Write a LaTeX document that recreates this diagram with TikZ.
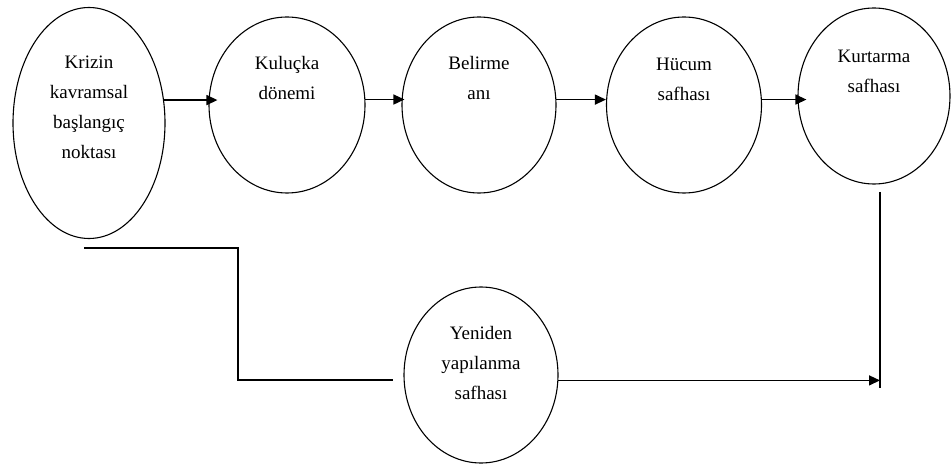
\documentclass[tikz,border=0pt]{standalone}
\usepackage{fontspec}
\setmainfont{Liberation Serif}
\usetikzlibrary{arrows.meta, shapes.geometric}

\begin{document}
\begin{tikzpicture}[x=1pt, y=-1pt,
    phase/.style={draw, ellipse, line width=1.1pt, inner sep=0pt},
    lbl/.style={align=center, font=\fontsize{19}{30}\selectfont},
    link/.style={line width=1.4pt},
    arr/.style={line width=1.4pt, -{Triangle[length=11pt, width=10pt]}}]
  \useasboundingbox (0,0) rectangle (951,465);
  % phases
  \node[phase, minimum width=152pt, minimum height=231pt] (kriz) at (89,123) {};
  \node[phase, minimum width=156pt, minimum height=176pt] (kulucka) at (287,105) {};
  \node[phase, minimum width=154pt, minimum height=176pt] (belirme) at (479,105) {};
  \node[phase, minimum width=155pt, minimum height=176pt] (hucum) at (684,105) {};
  \node[phase, minimum width=152pt, minimum height=176pt] (kurtarma) at (874,96) {};
  \node[phase, minimum width=154pt, minimum height=176pt] (yeniden) at (481,375) {};
  % texts
  \node[lbl] (kriz-t) at (89,107) {Krizin\\kavramsal\\başlangıç\\noktası};
  \node[lbl] (kulucka-t) at (287,78) {Kuluçka\\dönemi};
  \node[lbl] (belirme-t) at (479,78) {Belirme\\anı};
  \node[lbl] (hucum-t) at (684,79) {Hücum\\safhası};
  \node[lbl] (kurtarma-t) at (874,71) {Kurtarma\\safhası};
  \node[lbl] (yeniden-t) at (481,363) {Yeniden\\yapılanma\\safhası};
  % top row
  \draw[arr, shorten >=-9pt] (kriz.17) -- (kriz.17 -| kulucka.west);
  \draw[arr, shorten >=-3pt] (kulucka.4) -- (kulucka.4 -| belirme.west);
  \draw[arr] (belirme.4) -- (belirme.4 -| hucum.west);
  \draw[arr, shorten >=-9pt] (hucum.4) -- (hucum.4 -| kurtarma.west);
  % bottom part
  \coordinate (start) at (84,248);
  \coordinate (bend) at (238,380);
  \coordinate (stop) at (393,380);
  \coordinate (post) at (880,192);
  \coordinate (foot) at (880,388);
  \draw[link] (start) -| (bend) -- (stop);
  \draw[link] (post) -- (foot);
  \draw[arr] (yeniden.-4) -- (yeniden.-4 -| foot);
\end{tikzpicture}
\end{document}
